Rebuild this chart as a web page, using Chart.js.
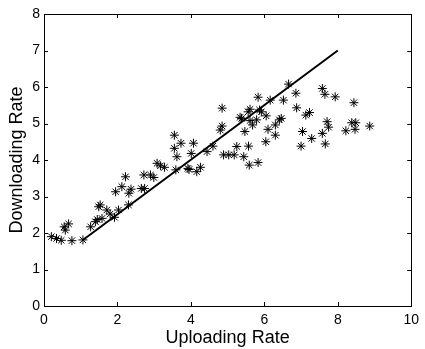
<!DOCTYPE html>
<html>
<head>
<meta charset="utf-8">
<script src="https://cdn.jsdelivr.net/npm/chart.js@4"></script>
<style>
  html, body { margin: 0; padding: 0; background: #fff; }
  #wrap { width: 425px; height: 349px; }
</style>
</head>
<body>
<div id="wrap"><canvas id="grafico" width="425" height="349"></canvas></div>
<script>
// measured points (uploading, downloading)
const uploadRate = [
  0.20, 0.34, 0.47, 0.58, 0.55, 0.67, 0.76, 1.06, 1.27, 1.40,
  1.45, 1.53, 1.49, 1.58, 1.71, 1.80, 1.92, 2.03, 1.95, 2.12,
  2.22, 2.30, 2.31, 2.37, 2.65, 2.72, 2.74, 2.90, 2.99, 3.08,
  3.17, 3.28, 3.59, 3.55, 3.62, 3.73, 3.92, 4.07, 4.01, 4.16,
  4.26, 4.44, 4.60, 4.89, 5.03, 5.18, 3.55, 4.85, 4.85, 4.80,
  5.25, 6.66, 6.86, 7.58, 7.65, 7.93, 8.44, 5.83, 6.16, 6.52,
  5.61, 5.56, 5.92, 6.88, 7.13, 7.23, 5.38, 5.61, 5.68, 5.79,
  6.05, 6.10, 6.30, 6.41, 6.46, 5.47, 6.30, 6.04, 7.04, 7.29,
  7.58, 7.71, 7.75, 7.66, 7.00, 8.22, 8.38, 8.49, 8.47, 8.87,
  5.57, 5.44, 5.59, 5.83, 3.95, 5.34, 5.87
];
const downloadRate = [
  1.90, 1.85, 1.80, 2.08, 2.17, 2.25, 1.79, 1.81, 2.17, 2.31,
  2.37, 2.77, 2.72, 2.40, 2.63, 2.52, 2.43, 2.63, 3.13, 3.27,
  3.54, 2.77, 3.09, 3.20, 3.22, 3.59, 3.22, 3.59, 3.52, 3.91,
  3.84, 3.80, 3.73, 4.32, 4.09, 4.46, 3.77, 4.46, 4.18, 3.68,
  3.80, 4.23, 4.38, 4.14, 4.14, 4.14, 4.68, 5.42, 4.93, 4.82,
  4.37, 6.08, 5.83, 5.96, 5.80, 5.73, 5.57, 5.72, 5.64, 5.64,
  5.39, 5.32, 5.32, 5.43, 5.23, 5.30, 5.14, 5.08, 4.96, 5.10,
  5.21, 4.84, 4.96, 5.10, 5.14, 4.78, 4.68, 4.50, 4.78, 4.59,
  4.73, 5.05, 4.90, 4.44, 4.38, 4.80, 5.02, 5.02, 4.84, 4.93,
  4.38, 4.09, 3.86, 3.93, 3.74, 5.17, 5.37
];
// fitted line endpoints
const fitX = [1.05, 8.0];
const fitY = [1.80, 7.0];
const xTicks = [0, 2, 4, 6, 8, 10];
const yTicks = [0, 1, 2, 3, 4, 5, 6, 7, 8];

const pontos = uploadRate.map((x, i) => ({ x: x, y: downloadRate[i] }));
const reta = fitX.map((x, i) => ({ x: x, y: fitY[i] }));

// box around plot + inward ticks, matlab style
const caixa = {
  id: 'caixa',
  afterDraw(chart) {
    const c = chart.ctx;
    const a = chart.chartArea;
    const sx = chart.scales.x;
    const sy = chart.scales.y;
    const t = 4;
    c.save();
    c.strokeStyle = '#000';
    c.lineWidth = 1;
    c.beginPath();
    xTicks.forEach(v => {
      const p = Math.round(sx.getPixelForValue(v)) + 0.5;
      c.moveTo(p, a.bottom); c.lineTo(p, a.bottom - t);
      c.moveTo(p, a.top); c.lineTo(p, a.top + t);
    });
    yTicks.forEach(v => {
      const p = Math.round(sy.getPixelForValue(v)) + 0.5;
      c.moveTo(a.left, p); c.lineTo(a.left + t, p);
      c.moveTo(a.right, p); c.lineTo(a.right - t, p);
    });
    c.stroke();
    c.strokeRect(Math.round(a.left) + 0.5, Math.round(a.top) + 0.5,
      Math.round(a.right - a.left), Math.round(a.bottom - a.top));
    c.restore();
  }
};

const fam = 'Liberation Sans, Arial, sans-serif';
const fonte = { family: fam, size: 14 };

new Chart(document.getElementById('grafico').getContext('2d'), {
  type: 'scatter',
  data: {
    datasets: [{
      data: pontos,
      pointStyle: 'star',
      pointRadius: 4.5,
      borderColor: '#000',
      backgroundColor: '#000',
      borderWidth: 1,
      showLine: false
    }, {
      data: reta,
      showLine: true,
      borderColor: '#000',
      borderWidth: 2,
      pointRadius: 0
    }]
  },
  options: {
    responsive: false,
    animation: false,
    layout: { padding: { top: 14, right: 8, left: 0, bottom: 0 } },
    plugins: { legend: { display: false }, tooltip: { enabled: false } },
    scales: {
      x: {
        type: 'linear', min: 0, max: 10,
        afterFit: s => { s.height = 43; },
        afterBuildTicks: s => { s.ticks = xTicks.map(v => ({ value: v })); },
        grid: { display: false, drawTicks: false },
        border: { display: false },
        ticks: { color: '#000', font: fonte, padding: 6, maxRotation: 0 },
        title: { display: true, text: 'Uploading Rate', color: '#000',
          font: { family: fam, size: 18 }, padding: { top: 0, bottom: 0 } }
      },
      y: {
        type: 'linear', min: 0, max: 8,
        afterFit: s => { s.width = 44; },
        afterBuildTicks: s => { s.ticks = yTicks.map(v => ({ value: v })); },
        grid: { display: false, drawTicks: false },
        border: { display: false },
        ticks: { color: '#000', font: fonte, padding: 4 },
        title: { display: true, text: 'Downloading Rate', color: '#000',
          font: { family: fam, size: 18 }, padding: { top: 6, bottom: 0 } }
      }
    }
  },
  plugins: [caixa]
});
</script>
</body>
</html>
